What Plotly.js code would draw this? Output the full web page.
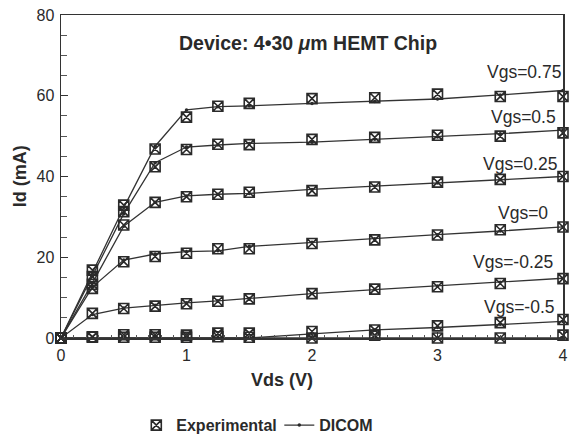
<!DOCTYPE html>
<html>
<head>
<meta charset="utf-8">
<script src="https://cdn.plot.ly/plotly-3.0.1.min.js"></script>
<style>
  html, body { margin: 0; padding: 0; background: #fff; }
  #chart { width: 576px; height: 439px; }
</style>
</head>
<body>
<div id="chart"></div>
<script>
// Drain-source voltage sweep points (V)
const vds = [0, 0.25, 0.5, 0.75, 1, 1.25, 1.5, 2, 2.5, 3, 3.5, 4];

// Measured drain current (mA), one array per gate bias
const expVgs075  = [0, 16.8, 32.9, 46.8, 54.7, 57.4, 58.1, 59.3, 59.5, 60.4, 59.8, 59.8];
const expVgs05   = [0, 15.2, 31.3, 42.4, 46.7, 48.0, 47.9, 49.2, 49.7, 50.2, 50.0, 50.8];
const expVgs025  = [0, 13.3, 28.0, 33.6, 35.0, 35.6, 36.1, 36.5, 37.4, 38.6, 39.3, 40.0];
const expVgs0    = [0, 12.3, 18.9, 20.2, 21.0, 22.1, 22.1, 23.4, 24.3, 25.5, 26.8, 27.5];
const expVgsM025 = [0, 6.1, 7.3, 7.9, 8.5, 9.1, 9.7, 11.0, 12.1, 12.7, 13.5, 14.7];
const expVgsM05  = [0, 0.3, 0.8, 0.8, 0.7, 1.2, 1.2, 1.6, 2.0, 3.0, 3.8, 4.6];
const expVgsOff  = [0, 0.2, 0.2, 0.2, 0.2, 0.3, 0.2, 0, 0.7, 0, 0, 0.7];

// DICOM simulated drain current (mA)
const dicomVgs075  = [0, 16.2, 32.3, 47.5, 56.5, 57.3, 57.5, 58.1, 58.6, 59.2, 60.2, 61.3];
const dicomVgs05   = [0, 15.3, 30.8, 43.4, 47.3, 47.8, 48.2, 48.5, 49.2, 49.8, 50.6, 51.5];
const dicomVgs025  = [0, 13.6, 27.7, 33.6, 35.2, 35.6, 35.8, 36.8, 37.6, 38.4, 39.2, 40.0];
const dicomVgs0    = [0, 12.6, 19.3, 20.8, 21.4, 21.6, 22.7, 23.7, 24.6, 25.6, 26.5, 27.5];
const dicomVgsM025 = [0, 5.8, 7.4, 8.1, 8.7, 9.2, 9.8, 11.0, 12.0, 12.9, 13.8, 14.8];
const dicomVgsM05  = [0, 0, 0, 0, 0, 0, 0, 1.0, 2.0, 2.6, 3.4, 4.1];
const dicomVgsOff  = [0, 0, 0, 0, 0, 0, 0, 0, 0, 0, 0, 0];

// Curve labels
const vgsLabels = ['Vgs=0.75', 'Vgs=0.5', 'Vgs=0.25', 'Vgs=0', 'Vgs=-0.25', 'Vgs=-0.5'];

const expSeries = [expVgs075, expVgs05, expVgs025, expVgs0, expVgsM025, expVgsM05, expVgsOff];
const dicomSeries = [dicomVgs075, dicomVgs05, dicomVgs025, dicomVgs0, dicomVgsM025, dicomVgsM05, dicomVgsOff];

// Label placement (right edge of text in x data units, vertical centre in mA)
const labelPos = [
  [4.00, 65.9], [3.96, 54.8], [3.965, 43.2], [3.90, 30.9], [3.94, 18.9], [3.95, 7.7]
];

const ink = '#2a2a2a';
const fontFamily = 'Liberation Sans, Arial, Helvetica, sans-serif';

const traces = [];
dicomSeries.forEach((ys, i) => {
  traces.push({
    type: 'scatter', mode: 'lines+markers', x: vds, y: ys,
    name: 'DICOM', legendgroup: 'dicom', showlegend: i === 0, legendrank: 2,
    line: { color: '#333', width: 1.3 },
    marker: { symbol: 'circle', size: 3.5, color: ink },
    cliponaxis: false
  });
});
expSeries.forEach((ys, i) => {
  traces.push({
    type: 'scatter', mode: 'markers', x: vds, y: ys,
    name: 'Experimental', legendgroup: 'exp', showlegend: i === 0, legendrank: 1,
    marker: { symbol: 'square-x-open', size: 10, color: ink, line: { width: 1.6, color: ink } },
    cliponaxis: false
  });
});

const annotations = vgsLabels.map((t, i) => ({
  text: t, x: labelPos[i][0], y: labelPos[i][1], xref: 'x', yref: 'y',
  xanchor: 'right', yanchor: 'middle', showarrow: false,
  font: { family: fontFamily, size: 17.5, color: ink }
}));

// Title inside the plot area
annotations.push({
  text: 'Device: 4\u202230 <i>\u03bc</i>m HEMT Chip', xref: 'paper', yref: 'paper',
  x: 0.492, y: 0.913, xanchor: 'center', yanchor: 'middle', showarrow: false,
  font: { family: fontFamily, size: 19.5, color: ink, weight: 'bold' }
});
// Axis titles
annotations.push({
  text: 'Vds (V)', xref: 'paper', yref: 'paper', x: 0.441, y: -0.13,
  xanchor: 'center', yanchor: 'middle', showarrow: false,
  font: { family: fontFamily, size: 18, color: ink, weight: 'bold' }
});
annotations.push({
  text: 'Id (mA)', xref: 'paper', yref: 'paper', x: -0.082, y: 0.5,
  xanchor: 'center', yanchor: 'middle', showarrow: false, textangle: -90,
  font: { family: fontFamily, size: 18, color: ink, weight: 'bold' }
});

const layout = {
  width: 576, height: 439,
  margin: { l: 61, r: 13, t: 15, b: 101, autoexpand: false },
  paper_bgcolor: '#fff', plot_bgcolor: '#fff',
  font: { family: fontFamily, size: 16, color: ink },
  showlegend: true,
  legend: {
    orientation: 'h', x: 0.15, xanchor: 'left', y: -0.27, yanchor: 'middle',
    font: { family: fontFamily, size: 16, color: ink, weight: 'bold' },
    bgcolor: 'rgba(0,0,0,0)', entrywidth: 98
  },
  xaxis: {
    range: [0, 4], dtick: 1, tick0: 0,
    showline: true, mirror: true, linecolor: '#333', linewidth: 1.5,
    ticks: 'inside', ticklen: 6, tickcolor: '#333', tickwidth: 1,
    minor: { dtick: 0.1, ticks: 'inside', ticklen: 3, tickcolor: '#555', tickwidth: 1 },
    showgrid: false, zeroline: false, ticklabelstandoff: 2,
    tickfont: { family: fontFamily, size: 16, color: ink }
  },
  yaxis: {
    range: [0, 80], dtick: 20, tick0: 0,
    showline: true, mirror: true, linecolor: '#333', linewidth: 1.5,
    ticks: 'inside', ticklen: 7, tickcolor: '#333', tickwidth: 1,
    minor: { dtick: 5, ticks: 'inside', ticklen: 6, tickcolor: '#555', tickwidth: 1 },
    showgrid: false, zeroline: false, ticklabelstandoff: 2,
    tickfont: { family: fontFamily, size: 16, color: ink }
  },
  annotations: annotations
};

Plotly.newPlot('chart', traces, layout, { staticPlot: true, displayModeBar: false });
</script>
</body>
</html>
